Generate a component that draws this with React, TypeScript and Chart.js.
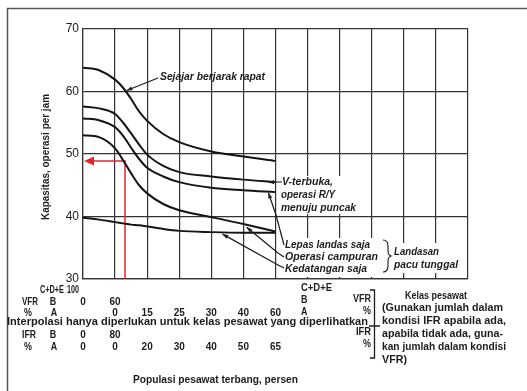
import { useEffect, useRef } from 'react';
import { Chart, registerables } from 'chart.js';

Chart.register(...registerables);

// ---- data ----
const xGrid = [0, 0.5, 1, 1.25, 1.5, 1.75, 2, 2.5, 3, 4, 5, 6];
const parallelClose = [63.8, 63.4, 61.9, 60.6, 58.8, 56.8, 55.3, 53.2, 51.9, 50.4, 49.6, 48.9];
const openV = [57.6, 57.3, 56.4, 55.0, 53.3, 51.5, 49.9, 48.1, 47.1, 46.4, 45.9, 45.5];
const takeoffsOnly = [55.7, 55.4, 54.3, 52.9, 51.0, 49.2, 47.8, 46.4, 45.5, 44.6, 44.2, 43.9];
const mixedOps = [53.0, 52.7, 50.9, 49.0, 46.9, 45.0, 43.7, 42.0, 41.0, 39.9, 38.8, 37.6];
const arrivalsOnly = [39.8, 39.5, 39.1, 38.9, 38.7, 38.6, 38.4, 38.0, 37.7, 37.5, 37.4, 37.4];

const redX = 1.31;
const redY = 48.9;

const vfrBCols = [0, 1];
const vfrBLabels = ['0', '60'];
const vfrACols = [1, 2, 3, 4, 5, 6];
const vfrALabels = ['0', '15', '25', '30', '40', '60'];
const ifrBCols = [0, 1];
const ifrBLabels = ['0', '80'];
const ifrACols = [0, 1, 2, 3, 4, 5, 6];
const ifrALabels = ['0', '0', '20', '30', '40', '50', '65'];

const FF = "'Liberation Sans', Arial, Helvetica, sans-serif";
const INK = '#1c1c1c';

function pts(ys: number[]) {
  return xGrid.map((x, i) => ({ x, y: ys[i] }));
}

// draws text; if fitWidth is given the glyphs are condensed/stretched horizontally to that width
function text(
  ctx: CanvasRenderingContext2D,
  s: string,
  x: number,
  y: number,
  font: string,
  align: CanvasTextAlign = 'left',
  fitWidth?: number
) {
  ctx.save();
  ctx.fillStyle = INK;
  ctx.textBaseline = 'middle';
  ctx.textAlign = align;
  ctx.font = font;
  ctx.translate(x, y);
  if (fitWidth) {
    const w = ctx.measureText(s).width;
    ctx.scale(fitWidth / w, 1);
  }
  ctx.fillText(s, 0, 0);
  ctx.restore();
}

// condensed text with a fixed horizontal factor
function ctext(
  ctx: CanvasRenderingContext2D,
  s: string,
  x: number,
  y: number,
  font: string,
  align: CanvasTextAlign = 'left',
  k = 0.85
) {
  ctx.save();
  ctx.fillStyle = INK;
  ctx.textBaseline = 'middle';
  ctx.textAlign = align;
  ctx.font = font;
  ctx.translate(x, y);
  ctx.scale(k, 1);
  ctx.fillText(s, 0, 0);
  ctx.restore();
}

function arrow(ctx: CanvasRenderingContext2D, path: [number, number][], head = 6) {
  ctx.save();
  ctx.strokeStyle = INK;
  ctx.fillStyle = INK;
  ctx.lineWidth = 1.2;
  ctx.beginPath();
  ctx.moveTo(path[0][0], path[0][1]);
  for (let i = 1; i < path.length; i++) ctx.lineTo(path[i][0], path[i][1]);
  ctx.stroke();
  const [tx, ty] = path[path.length - 1];
  const [px, py] = path[path.length - 2];
  const a = Math.atan2(ty - py, tx - px);
  ctx.beginPath();
  ctx.moveTo(tx, ty);
  ctx.lineTo(tx - head * Math.cos(a - 0.35), ty - head * Math.sin(a - 0.35));
  ctx.lineTo(tx - head * Math.cos(a + 0.35), ty - head * Math.sin(a + 0.35));
  ctx.closePath();
  ctx.fill();
  ctx.restore();
}

const extras = {
  id: 'extras',
  beforeDatasetsDraw(chart: any) {
    const ctx = chart.ctx as CanvasRenderingContext2D;
    ctx.save();
    ctx.fillStyle = '#ffffff';
    // white patches where the printed labels interrupt the grid
    ctx.fillRect(279, 176, 80, 38);
    ctx.fillRect(283, 238, 97, 39);
    ctx.fillRect(385, 243, 76, 30);
    ctx.restore();
  },
  afterDraw(chart: any) {
    const ctx = chart.ctx as CanvasRenderingContext2D;
    const xs = chart.scales.x;
    const ys = chart.scales.y;
    const X = (v: number) => xs.getPixelForValue(v);
    const Y = (v: number) => ys.getPixelForValue(v);

    // page frame
    ctx.save();
    ctx.strokeStyle = '#555';
    ctx.lineWidth = 1.5;
    ctx.beginPath();
    ctx.moveTo(7.5, 391);
    ctx.lineTo(7.5, 8.5);
    ctx.lineTo(527, 8.5);
    ctx.stroke();
    ctx.restore();

    // y title
    ctx.save();
    ctx.translate(46, 157);
    ctx.rotate(-Math.PI / 2);
    text(ctx, 'Kapasitas, operasi per jam', 0, 0, `bold 10.5px ${FF}`, 'center', 126);
    ctx.restore();

    // red arrowhead
    ctx.save();
    ctx.fillStyle = '#e3262b';
    const ry = Y(redY);
    const rx0 = X(0);
    ctx.beginPath();
    ctx.moveTo(rx0 + 1, ry);
    ctx.lineTo(rx0 + 11, ry - 4.5);
    ctx.lineTo(rx0 + 11, ry + 4.5);
    ctx.closePath();
    ctx.fill();
    ctx.restore();

    const lab = `italic bold 10.5px ${FF}`;
    // curve labels
    text(ctx, 'Sejajar berjarak rapat', 160, 77, lab, 'left', 105);
    arrow(ctx, [[158, 78], [X(1.33) + 1, Y(60) - 1]], 6);

    text(ctx, 'V-terbuka,', 282, 182, lab, 'left', 51);
    text(ctx, 'operasi R/Y', 281, 195, lab, 'left', 54);
    text(ctx, 'menuju puncak', 281, 208, lab, 'left', 75);
    arrow(ctx, [[282, 182], [X(6) - 7, Y(45.5)]], 6);

    text(ctx, 'Lepas landas saja', 285, 245, lab, 'left', 85);
    arrow(ctx, [[284, 245], [276, 215], [X(5.78), Y(43.95) + 1]], 6);

    text(ctx, 'Operasi campuran', 285, 257, lab, 'left', 93);
    arrow(ctx, [[284, 257], [278, 253], [X(5.1), Y(38.6) + 2]], 6);

    text(ctx, 'Kedatangan saja', 285, 269, lab, 'left', 82);
    arrow(ctx, [[284, 268], [278, 265], [X(4.35), Y(37.5) + 2]], 6);

    // brace for single runway
    ctx.save();
    ctx.strokeStyle = INK;
    ctx.lineWidth = 1.1;
    ctx.beginPath();
    ctx.moveTo(383, 240);
    ctx.quadraticCurveTo(388, 240, 388, 246);
    ctx.lineTo(388, 251);
    ctx.quadraticCurveTo(388, 255, 391, 256);
    ctx.quadraticCurveTo(388, 257, 388, 261);
    ctx.lineTo(388, 266);
    ctx.quadraticCurveTo(388, 272, 383, 272);
    ctx.stroke();
    ctx.restore();
    text(ctx, 'Landasan', 394, 252, lab, 'left', 45);
    text(ctx, 'pacu tunggal', 394, 265, lab, 'left', 64);

    // bottom tables
    const tf = `bold 10.5px ${FF}`;
    text(ctx, 'C+D+E', 40, 290, tf, 'left', 24);
    text(ctx, '100', 67, 290, tf, 'left', 12);

    text(ctx, 'VFR', 22, 302, tf, 'left', 16);
    ctext(ctx, 'B', 53, 302, tf, 'center');
    vfrBCols.forEach((c, i) => ctext(ctx, vfrBLabels[i], X(c), 302, tf, 'center', 0.95));

    ctext(ctx, '%', 28, 313, tf, 'center');
    ctext(ctx, 'A', 54, 313, tf, 'center');
    vfrACols.forEach((c, i) => ctext(ctx, vfrALabels[i], X(c), 313, tf, 'center', 0.95));

    text(ctx, 'C+D+E', 301, 288, tf, 'left', 31);
    ctext(ctx, 'B', 301, 300, tf);
    ctext(ctx, 'A', 301, 312, tf);

    text(ctx, 'Interpolasi hanya diperlukan untuk kelas pesawat yang diperlihatkan', 7, 322, `bold 11px ${FF}`, 'left', 361);

    text(ctx, 'IFR', 22, 335, tf, 'left', 14);
    ctext(ctx, 'B', 53, 335, tf, 'center');
    ifrBCols.forEach((c, i) => ctext(ctx, ifrBLabels[i], X(c), 335, tf, 'center', 0.95));

    ctext(ctx, '%', 28, 347, tf, 'center');
    ctext(ctx, 'A', 54, 347, tf, 'center');
    ifrACols.forEach((c, i) => ctext(ctx, ifrALabels[i], X(c), 347, tf, 'center', 0.95));

    // bracket
    text(ctx, 'VFR', 371, 299, tf, 'right', 18);
    ctext(ctx, '%', 371, 311, tf, 'right');
    text(ctx, 'IFR', 371, 332, tf, 'right', 15);
    ctext(ctx, '%', 371, 344, tf, 'right');
    ctx.save();
    ctx.strokeStyle = INK;
    ctx.lineWidth = 1.3;
    ctx.beginPath();
    ctx.moveTo(370, 290);
    ctx.lineTo(374.5, 290);
    ctx.lineTo(374.5, 358);
    ctx.lineTo(370, 358);
    ctx.moveTo(369, 326);
    ctx.lineTo(380, 326);
    ctx.stroke();
    ctx.restore();

    const rf = `bold 11px ${FF}`;
    text(ctx, 'Kelas pesawat', 436, 296, rf, 'center', 62);
    text(ctx, '(Gunakan jumlah dalam', 382, 308, rf, 'left', 121);
    text(ctx, 'kondisi IFR apabila ada,', 382, 321, rf, 'left', 124);
    text(ctx, 'apabila tidak ada, guna-', 382, 334, rf, 'left', 121);
    text(ctx, 'kan jumlah dalam kondisi', 382, 347, rf, 'left', 124);
    text(ctx, 'VFR)', 382, 360, rf, 'left', 25);

    text(ctx, 'Populasi pesawat terbang, persen', 133, 380, `bold 10px ${FF}`, 'left', 165);
  },
};

export default function App() {
  const ref = useRef<HTMLCanvasElement | null>(null);
  useEffect(() => {
    if (!ref.current) return;
    const curve = (label: string, ys: number[]) => ({
      label,
      data: pts(ys),
      borderColor: '#141414',
      borderWidth: 2,
      pointRadius: 0,
      fill: false,
      cubicInterpolationMode: 'monotone' as const,
    });
    const chart = new Chart(ref.current, {
      type: 'line',
      data: {
        datasets: [
          curve('Sejajar berjarak rapat', parallelClose),
          curve('V-terbuka, operasi R/Y menuju puncak', openV),
          curve('Lepas landas saja', takeoffsOnly),
          curve('Operasi campuran', mixedOps),
          curve('Kedatangan saja', arrivalsOnly),
          {
            label: 'contoh',
            data: [
              { x: redX, y: 30 },
              { x: redX, y: redY },
              { x: 0.3, y: redY },
            ],
            borderColor: '#e3262b',
            borderWidth: 1.5,
            pointRadius: 0,
            tension: 0,
            fill: false,
          },
        ],
      },
      options: {
        animation: false,
        responsive: false,
        events: [],
        layout: { padding: { left: 0, top: 29, right: 59, bottom: 0 } },
        plugins: { legend: { display: false }, tooltip: { enabled: false }, title: { display: false } },
        scales: {
          x: {
            type: 'linear',
            min: 0,
            max: 12,
            ticks: { display: false, stepSize: 1 },
            grid: { color: '#333', lineWidth: 1.2, drawTicks: false },
            border: { color: '#333', width: 1.2 },
            afterFit: (s: any) => {
              s.height = 112;
            },
          },
          y: {
            type: 'linear',
            min: 30,
            max: 70,
            ticks: {
              stepSize: 10,
              padding: 4,
              color: INK,
              font: { family: FF, size: 12 },
            },
            grid: { color: '#333', lineWidth: 1.2, drawTicks: false },
            border: { color: '#333', width: 1.2 },
            afterFit: (s: any) => {
              s.width = 83;
            },
          },
        },
      },
      plugins: [extras],
    });
    return () => chart.destroy();
  }, []);
  return (
    <div style={{ position: 'absolute', left: 0, top: 0, width: 527, height: 391, background: '#fff' }}>
      <canvas ref={ref} width={527} height={391} />
    </div>
  );
}
